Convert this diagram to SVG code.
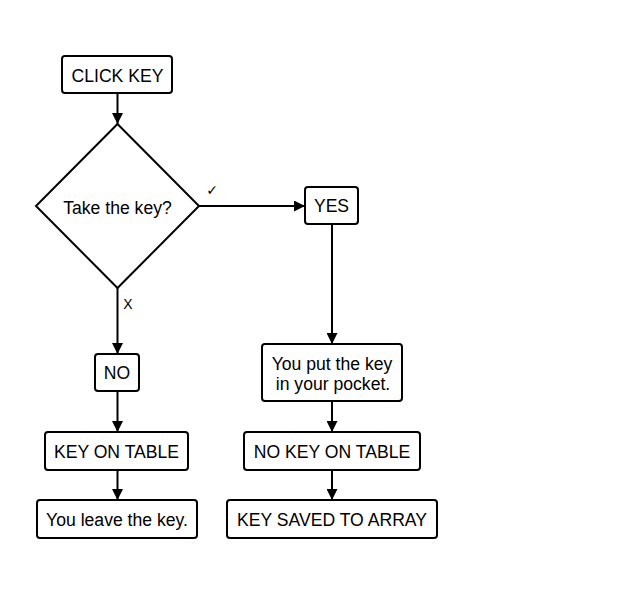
<svg xmlns="http://www.w3.org/2000/svg" width="631" height="606" viewBox="0 0 631 606">
<style>
.box{fill:#fff;stroke:#000;stroke-width:2}
.t{font-family:"Liberation Sans",Arial,sans-serif;font-size:17.6px;fill:#000;text-anchor:middle}
.c{fill:none;stroke:#000;stroke-width:2}
</style>
<defs>
<marker id="ah" viewBox="0 0 10 10" refX="10" refY="5" markerWidth="5.5" markerHeight="5.5" orient="auto" markerUnits="strokeWidth">
<path d="M0,0 L10,5 L0,10 z" fill="#000"/>
</marker>
</defs>
<rect width="631" height="606" fill="#fff"/>
<g id="connectors">
<line class="c" x1="117.5" y1="93" x2="117.5" y2="124" marker-end="url(#ah)"/>
<line class="c" x1="199" y1="206" x2="305" y2="206" marker-end="url(#ah)"/>
<line class="c" x1="117.5" y1="288" x2="117.5" y2="354" marker-end="url(#ah)"/>
<line class="c" x1="117.5" y1="391" x2="117.5" y2="432" marker-end="url(#ah)"/>
<line class="c" x1="117.5" y1="470" x2="117.5" y2="500" marker-end="url(#ah)"/>
<line class="c" x1="332" y1="224" x2="332" y2="344" marker-end="url(#ah)"/>
<line class="c" x1="332" y1="401" x2="332" y2="432" marker-end="url(#ah)"/>
<line class="c" x1="332" y1="470" x2="332" y2="500" marker-end="url(#ah)"/>
<text x="212" y="195" fill="#000" style="font-family:'DejaVu Sans',sans-serif;font-size:14px;font-weight:bold" text-anchor="middle">✓</text>
<text x="128" y="309" class="t" style="font-size:14px">X</text>
</g>
<g id="click-key">
<rect class="box" x="62" y="56" width="110" height="37" rx="3"/>
<text class="t" x="117.5" y="81.5">CLICK KEY</text>
</g>
<g id="decision">
<polygon class="box" points="117.5,124 199,206 117.5,288 36,206"/>
<text class="t" x="117.5" y="214">Take the key?</text>
</g>
<g id="yes">
<rect class="box" x="305" y="187" width="53" height="37" rx="3"/>
<text class="t" x="331.5" y="212">YES</text>
</g>
<g id="no">
<rect class="box" x="95" y="354" width="44" height="37" rx="3"/>
<text class="t" x="117" y="379">NO</text>
</g>
<g id="key-on-table">
<rect class="box" x="45" y="432" width="143" height="38" rx="3"/>
<text class="t" x="116.5" y="458">KEY ON TABLE</text>
</g>
<g id="leave-key">
<rect class="box" x="37" y="500" width="160" height="38" rx="3"/>
<text class="t" x="117" y="526">You leave the key.</text>
</g>
<g id="pocket">
<rect class="box" x="262" y="344" width="140" height="57" rx="3"/>
<text class="t" x="332" y="370">You put the key</text>
<text class="t" x="333" y="390">in your pocket.</text>
</g>
<g id="no-key-on-table">
<rect class="box" x="244" y="432" width="176" height="38" rx="3"/>
<text class="t" x="332" y="458">NO KEY ON TABLE</text>
</g>
<g id="key-saved">
<rect class="box" x="227" y="500" width="210" height="38" rx="3"/>
<text class="t" x="332" y="526">KEY SAVED TO ARRAY</text>
</g>
</svg>
